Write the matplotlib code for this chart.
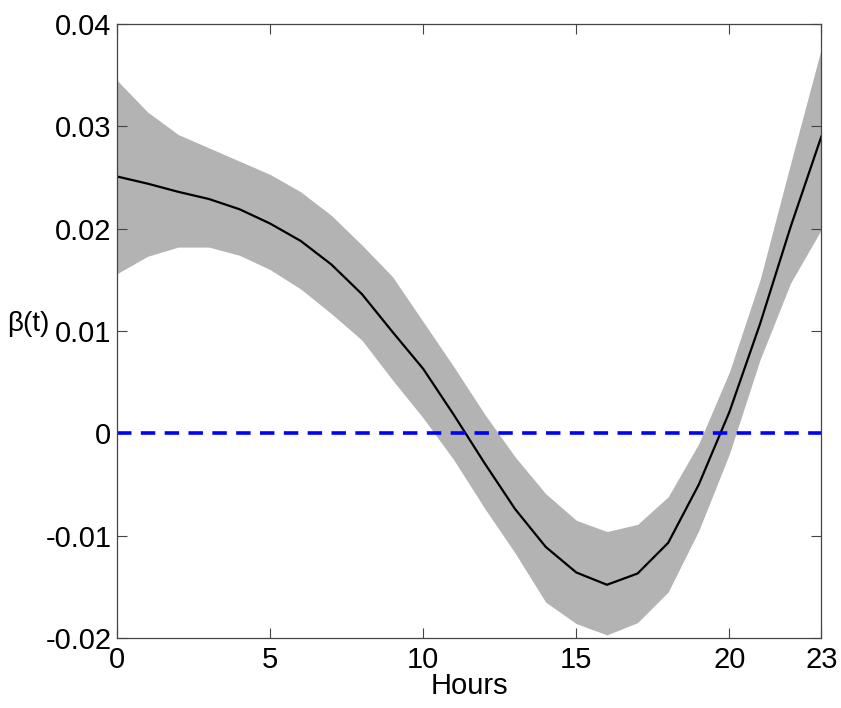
import matplotlib
matplotlib.use("Agg")
import matplotlib.pyplot as plt
import numpy as np

plt.rcParams['font.family'] = ['Liberation Sans', 'DejaVu Sans']

hours = np.arange(24)

beta = [0.0251, 0.0244, 0.0236, 0.0229, 0.0219, 0.0205, 0.0188, 0.0165,
        0.0136, 0.0099, 0.0063, 0.0018, -0.0029, -0.0074, -0.0111, -0.0136,
        -0.0148, -0.0137, -0.0107, -0.0050, 0.0021, 0.0107, 0.0202, 0.0290]

upper = [0.0345, 0.0314, 0.0292, 0.0279, 0.0266, 0.0253, 0.0236, 0.0213,
         0.0184, 0.0153, 0.0109, 0.0065, 0.0019, -0.0023, -0.0059, -0.0085,
         -0.0096, -0.0089, -0.0062, -0.0010, 0.0060, 0.0150, 0.0264, 0.0376]

lower = [0.0156, 0.0173, 0.0182, 0.0182, 0.0174, 0.0160, 0.0141, 0.0117,
         0.0091, 0.0052, 0.0015, -0.0026, -0.0073, -0.0117, -0.0165, -0.0186,
         -0.0197, -0.0185, -0.0155, -0.0095, -0.0020, 0.0072, 0.0147, 0.0199]

xticks = [0, 5, 10, 15, 20, 23]
yticks = [-0.02, -0.01, 0, 0.01, 0.02, 0.03, 0.04]
ylabels = ['-0.02', '-0.01', '0', '0.01', '0.02', '0.03', '0.04']

fig = plt.figure(figsize=(8.41, 7.08), dpi=100)
ax = fig.add_axes([0.1391, 0.0989, 0.8375, 0.8672])

ax.fill_between(hours, lower, upper, color='#b3b3b3', linewidth=0)
ax.plot(hours, beta, color='black', linewidth=1.6)
ax.axhline(0, color='#0000ff', linewidth=2.6, dashes=(4, 2.6))

ax.set_xlim(0, 23)
ax.set_ylim(-0.02, 0.04)
ax.set_xticks(xticks)
ax.set_xticklabels([str(t) for t in xticks])
ax.set_yticks(yticks)
ax.set_yticklabels(ylabels)

ax.tick_params(direction='in', top=True, right=True, length=7, width=0.8,
               labelsize=21, color='#444444', pad=4)
ax.tick_params(axis='x', pad=6)
for s in ax.spines.values():
    s.set_color('#444444')
    s.set_linewidth(0.9)

ax.set_xlabel('Hours', fontsize=21, labelpad=-2)
ax.set_ylabel('β(t)', fontsize=20, rotation=0)
ax.yaxis.set_label_coords(-0.126, 0.49)

fig.savefig('out.png', dpi=100)
